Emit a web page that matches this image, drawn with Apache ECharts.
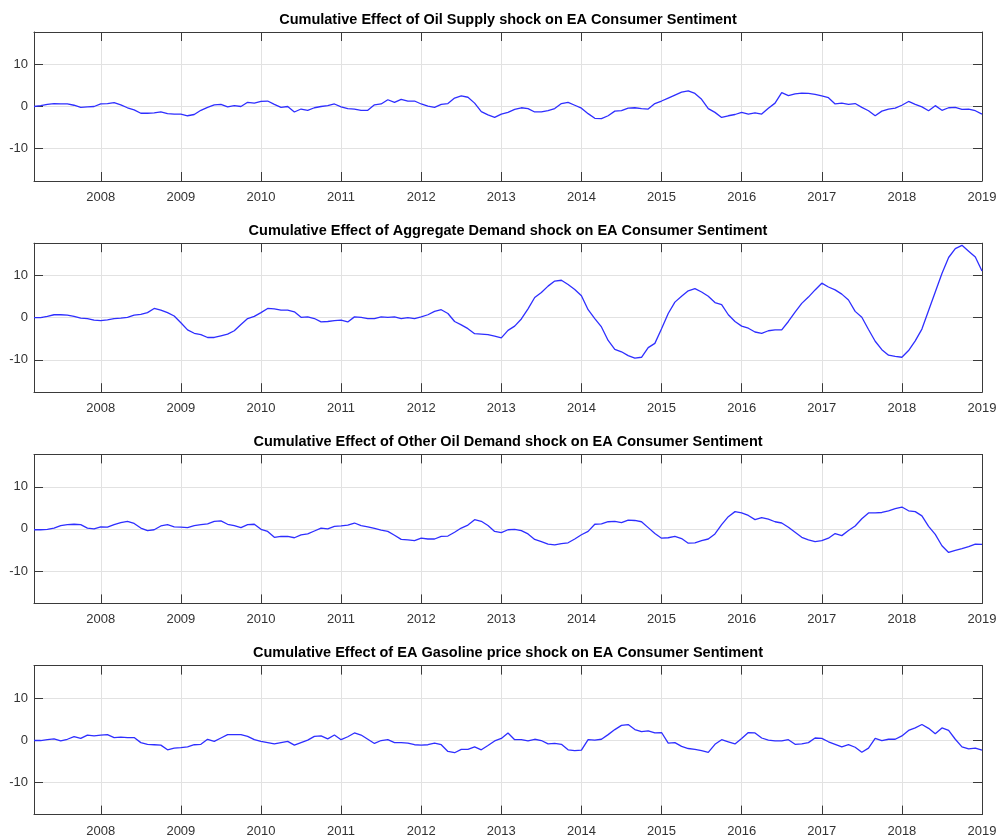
<!DOCTYPE html>
<html><head><meta charset="utf-8">
<script src="https://cdn.jsdelivr.net/npm/echarts@6/dist/echarts.min.js"></script>
<style>html,body{margin:0;padding:0;background:#fff}#c{width:1002px;height:838px}</style>
</head><body><div id="c"></div>
<script>
// Monthly data, March 2007 .. January 2019 (143 months)
const startYear = 2007, startMonthIndex = 2; // March
const yearTicks = [2008, 2009, 2010, 2011, 2012, 2013, 2014, 2015, 2016, 2017, 2018, 2019];
const yTicks = [-10, 0, 10];
const titles = [
  'Cumulative Effect of Oil Supply shock on EA Consumer Sentiment',
  'Cumulative Effect of Aggregate Demand shock on EA Consumer Sentiment',
  'Cumulative Effect of Other Oil Demand shock on EA Consumer Sentiment',
  'Cumulative Effect of EA Gasoline price shock on EA Consumer Sentiment'
];
const oilSupply = [
  0.0, 0.2, 0.5, 0.7, 0.6, 0.6, 0.3, -0.2, -0.1, 0.0,
  0.6, 0.7, 0.9, 0.4, -0.3, -0.8, -1.6, -1.6, -1.5, -1.3,
  -1.7, -1.8, -1.8, -2.2, -1.9, -0.9, -0.2, 0.4, 0.5, -0.1,
  0.2, 0.0, 1.0, 0.8, 1.2, 1.3, 0.5, -0.2, 0.0, -1.3,
  -0.6, -0.9, -0.3, 0.0, 0.2, 0.6, -0.1, -0.5, -0.6, -0.9,
  -0.9, 0.4, 0.6, 1.6, 1.0, 1.7, 1.3, 1.3, 0.6, 0.1,
  -0.2, 0.5, 0.7, 2.0, 2.5, 2.2, 0.8, -1.2, -2.0, -2.6,
  -1.8, -1.4, -0.7, -0.3, -0.5, -1.3, -1.3, -1.0, -0.5, 0.7,
  1.0, 0.3, -0.4, -1.7, -2.8, -2.9, -2.2, -1.1, -1.0, -0.4,
  -0.3, -0.5, -0.6, 0.7, 1.3, 2.0, 2.7, 3.4, 3.7, 3.1,
  1.7, -0.5, -1.4, -2.6, -2.2, -1.9, -1.4, -1.8, -1.5, -1.8,
  -0.4, 0.8, 3.3, 2.6, 3.0, 3.2, 3.1, 2.9, 2.5, 2.1,
  0.6, 0.8, 0.5, 0.7, -0.2, -1.0, -2.2, -1.1, -0.6, -0.4,
  0.3, 1.2, 0.5, -0.1, -1.0, 0.2, -0.9, -0.3, -0.2, -0.7,
  -0.6, -1.0, -1.8
];
const aggDemand = [
  0.0, 0.0, 0.3, 0.7, 0.7, 0.6, 0.3, -0.1, -0.2, -0.6,
  -0.7, -0.5, -0.2, -0.1, 0.1, 0.6, 0.8, 1.2, 2.2, 1.8,
  1.2, 0.4, -1.2, -2.9, -3.7, -4.0, -4.7, -4.7, -4.3, -3.9,
  -3.1, -1.6, -0.2, 0.3, 1.2, 2.2, 2.1, 1.8, 1.8, 1.4,
  0.1, 0.2, -0.2, -1.0, -0.9, -0.7, -0.6, -1.0, 0.2, 0.1,
  -0.2, -0.2, 0.2, 0.1, 0.2, -0.2, 0.0, -0.2, 0.2, 0.7,
  1.5, 1.9, 1.0, -0.9, -1.7, -2.6, -3.8, -3.9, -4.0, -4.4,
  -4.8, -3.0, -2.0, -0.3, 2.1, 4.8, 6.0, 7.5, 8.7, 8.9,
  7.9, 6.7, 5.2, 1.9, -0.2, -2.2, -5.4, -7.5, -8.1, -9.0,
  -9.6, -9.4, -7.1, -6.1, -2.6, 1.0, 3.7, 5.1, 6.4, 6.9,
  6.1, 5.1, 3.6, 3.1, 0.7, -0.9, -2.0, -2.5, -3.4, -3.7,
  -3.1, -2.9, -2.9, -0.9, 1.3, 3.4, 4.9, 6.6, 8.2, 7.3,
  6.6, 5.6, 4.2, 1.5, 0.1, -2.8, -5.6, -7.6, -8.9, -9.2,
  -9.4, -7.8, -5.5, -2.7, 1.7, 6.1, 10.5, 14.3, 16.4, 17.2,
  15.8, 14.4, 11.1
];
const otherOilDemand = [
  -0.2, -0.2, -0.1, 0.2, 0.8, 1.0, 1.1, 1.0, 0.2, 0.0,
  0.5, 0.4, 1.0, 1.5, 1.8, 1.3, 0.2, -0.4, -0.2, 0.7,
  1.0, 0.5, 0.4, 0.3, 0.8, 1.0, 1.2, 1.8, 1.9, 1.1,
  0.8, 0.3, 1.0, 1.1, -0.1, -0.6, -2.0, -1.8, -1.8, -2.1,
  -1.4, -1.2, -0.5, 0.2, 0.0, 0.6, 0.7, 0.9, 1.4, 0.8,
  0.5, 0.1, -0.3, -0.6, -1.5, -2.5, -2.6, -2.8, -2.2, -2.4,
  -2.4, -1.8, -1.7, -0.8, 0.2, 0.9, 2.2, 1.8, 0.8, -0.6,
  -0.9, -0.2, -0.1, -0.4, -1.2, -2.5, -3.0, -3.6, -3.8, -3.5,
  -3.3, -2.4, -1.4, -0.6, 1.1, 1.2, 1.7, 1.8, 1.5, 2.1,
  2.0, 1.7, 0.3, -1.1, -2.2, -2.1, -1.8, -2.3, -3.4, -3.3,
  -2.8, -2.4, -1.2, 1.0, 2.9, 4.1, 3.8, 3.2, 2.2, 2.7,
  2.3, 1.7, 1.4, 0.4, -0.8, -2.0, -2.6, -3.0, -2.8, -2.2,
  -1.1, -1.6, -0.4, 0.7, 2.4, 3.8, 3.8, 3.9, 4.3, 4.8,
  5.2, 4.3, 4.1, 3.1, 0.6, -1.3, -4.0, -5.6, -5.1, -4.7,
  -4.2, -3.6, -3.7
];
const gasolinePrice = [
  -0.1, -0.1, 0.1, 0.3, -0.2, 0.2, 0.8, 0.4, 1.2, 1.0,
  1.2, 1.3, 0.6, 0.7, 0.6, 0.6, -0.6, -1.0, -1.1, -1.2,
  -2.3, -1.9, -1.8, -1.6, -1.1, -1.0, 0.2, -0.3, 0.5, 1.3,
  1.3, 1.3, 0.9, 0.1, -0.3, -0.6, -0.9, -0.6, -0.3, -1.2,
  -0.6, 0.0, 0.9, 1.0, 0.3, 1.2, 0.1, 0.8, 1.7, 1.2,
  0.2, -0.8, -0.1, 0.1, -0.6, -0.6, -0.7, -1.1, -1.2, -1.1,
  -0.7, -1.1, -2.7, -3.0, -2.2, -2.2, -1.6, -2.3, -1.3, -0.2,
  0.4, 1.7, 0.1, 0.1, -0.2, 0.2, -0.1, -0.9, -0.8, -1.0,
  -2.3, -2.5, -2.4, 0.1, 0.0, 0.2, 1.3, 2.5, 3.5, 3.7,
  2.5, 2.0, 2.2, 1.7, 1.8, -0.7, -0.6, -1.5, -2.0, -2.2,
  -2.5, -2.9, -1.0, 0.1, -0.4, -0.9, 0.4, 1.8, 1.7, 0.5,
  0.0, -0.2, -0.2, 0.1, -1.0, -0.9, -0.6, 0.5, 0.4, -0.4,
  -1.0, -1.6, -1.1, -1.7, -2.9, -1.9, 0.4, -0.1, 0.2, 0.2,
  1.0, 2.3, 2.9, 3.7, 2.8, 1.5, 2.9, 2.3, 0.2, -1.6,
  -2.1, -1.9, -2.4
];
const allSeries = [oilSupply, aggDemand, otherOilDemand, gasolinePrice];

// decimal-year positions of the monthly observations
const months = oilSupply.map((_, i) => startYear + (startMonthIndex + i) / 12);
const xMin = months[0], xMax = 2019;
const yLim = 17.7;

const FONT = "'Liberation Sans', Arial, Helvetica, sans-serif";
const AX = '#3a3a3a';
const LBL = '#333333';
const GRID_C = '#e2e2e2';
const gridTop0 = 32, gridStep = 211.2, gridH = 149;

const grids = [], xAxes = [], yAxes = [], series = [], title = [];
for (let i = 0; i < 4; i++) {
  const top = gridTop0 + i * gridStep;
  grids.push({ left: 34, right: 20, top: top, height: gridH, show: false, containLabel: false });
  title.push({
    text: titles[i], left: 508, top: top - 20, textAlign: 'center', padding: 0,
    textStyle: { fontFamily: FONT, fontSize: 14.5, fontWeight: 'bold', color: '#000' }
  });
  const xBase = {
    type: 'value', gridIndex: i, min: xMin, max: xMax,
    axisLine: { show: true, onZero: false, lineStyle: { color: AX, width: 1 } },
    axisTick: { show: true, inside: true, length: 9, customValues: yearTicks, lineStyle: { color: AX, width: 1 } },
  };
  xAxes.push(Object.assign({}, xBase, {
    position: 'bottom',
    axisLabel: { show: true, customValues: yearTicks, formatter: v => String(Math.round(v)), color: LBL, fontSize: 13, fontFamily: FONT, margin: 10 },
    splitLine: { show: true, lineStyle: { color: GRID_C, width: 1 } }
  }));
  xAxes.push(Object.assign({}, xBase, {
    position: 'top',
    axisLabel: { show: false },
    splitLine: { show: false }
  }));
  const yBase = {
    type: 'value', gridIndex: i, min: -yLim, max: yLim,
    axisLine: { show: true, onZero: false, lineStyle: { color: AX, width: 1 } },
    axisTick: { show: true, inside: true, length: 9, customValues: yTicks, lineStyle: { color: AX, width: 1 } },
  };
  yAxes.push(Object.assign({}, yBase, {
    position: 'left',
    axisLabel: { show: true, customValues: yTicks, color: LBL, fontSize: 13, fontFamily: FONT, margin: 6 },
    splitLine: { show: true, lineStyle: { color: GRID_C, width: 1 } }
  }));
  yAxes.push(Object.assign({}, yBase, {
    position: 'right',
    axisLabel: { show: false },
    splitLine: { show: false }
  }));
  series.push({
    type: 'line', xAxisIndex: 2 * i, yAxisIndex: 2 * i,
    data: months.map((m, k) => [m, allSeries[i][k]]),
    showSymbol: false, symbol: 'none', smooth: false,
    lineStyle: { color: '#2e2eff', width: 1.3 },
    itemStyle: { color: '#2e2eff' },
    clip: true
  });
}

const chart = echarts.init(document.getElementById('c'), null, { renderer: 'canvas' });
chart.setOption({
  backgroundColor: '#ffffff',
  animation: false,
  title: title,
  grid: grids,
  xAxis: xAxes,
  yAxis: yAxes,
  series: series
});
</script>
</body></html>
